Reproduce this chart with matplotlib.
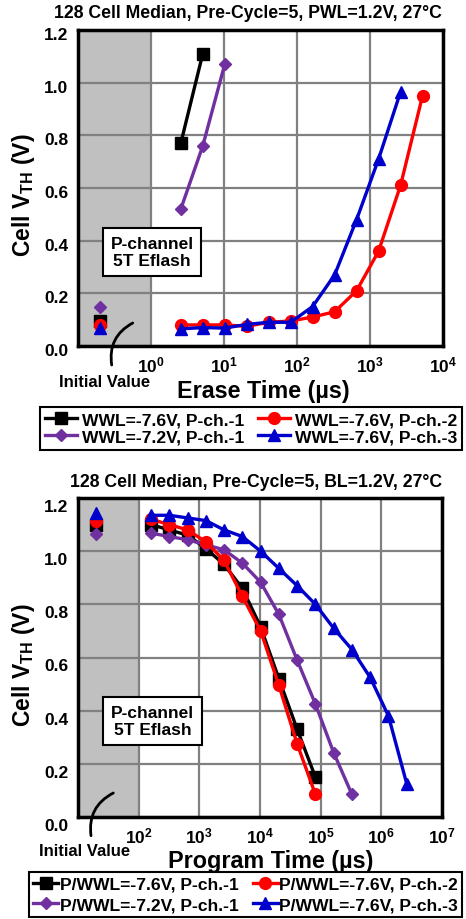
import math
import matplotlib as mpl
mpl.use('Agg')
from matplotlib import pyplot as plt
from matplotlib.patches import FancyArrowPatch
from matplotlib.transforms import ScaledTranslation

plt.rcParams['font.family'] = ['Liberation Sans', 'DejaVu Sans']
plt.rcParams['font.weight'] = 'bold'
plt.rcParams['axes.labelweight'] = 'bold'

# erase data (top panel)
erase_time = [2.56, 5.12, 10.24, 20.48, 40.96, 81.92, 163.84, 327.68, 655.36, 1310.72, 2621.44, 5242.88]
erase_init_time = 0.2
erase_black = [0.77, 1.11]
erase_purple = [0.52, 0.76, 1.07]
erase_red = [0.08, 0.08, 0.08, 0.075, 0.09, 0.095, 0.11, 0.13, 0.21, 0.36, 0.61, 0.95]
erase_blue = [0.065, 0.07, 0.068, 0.082, 0.09, 0.09, 0.15, 0.27, 0.48, 0.71, 0.965]
erase_init = {'black': 0.095, 'purple': 0.15, 'red': 0.08, 'blue': 0.068}
erase_labels = ['WWL=-7.6V, P-ch.-1', 'WWL=-7.2V, P-ch.-1',
                'WWL=-7.6V, P-ch.-2', 'WWL=-7.6V, P-ch.-3']

# program data (bottom panel)
prog_time = [160, 320, 640, 1280, 2560, 5120, 10240, 20480, 40960, 81920,
             163840, 327680, 655360, 1310720, 2621440]
prog_init_time = 20
prog_black = [1.10, 1.08, 1.06, 1.01, 0.95, 0.86, 0.715, 0.52, 0.33, 0.15]
prog_red = [1.12, 1.10, 1.08, 1.035, 0.965, 0.83, 0.70, 0.495, 0.275, 0.085]
prog_purple = [1.068, 1.055, 1.043, 1.024, 1.005, 0.955, 0.883, 0.762, 0.59, 0.425, 0.242, 0.085]
prog_blue = [1.135, 1.135, 1.125, 1.115, 1.08, 1.055, 1.0, 0.935, 0.87, 0.80, 0.71, 0.63, 0.525, 0.38, 0.125]
prog_init = {'black': 1.10, 'purple': 1.065, 'red': 1.115, 'blue': 1.145}
prog_labels = ['P/WWL=-7.6V, P-ch.-1', 'P/WWL=-7.2V, P-ch.-1',
               'P/WWL=-7.6V, P-ch.-2', 'P/WWL=-7.6V, P-ch.-3']

yticks = [0.0, 0.2, 0.4, 0.6, 0.8, 1.0, 1.2]

colors = {'black': '#000000', 'purple': '#7030A0', 'red': '#FF0000', 'blue': '#0000CC'}
markers = {'black': ('s', 8.5), 'purple': ('D', 6.5), 'red': ('o', 8.5), 'blue': ('^', 9)}

W, H = 466, 920
fig = plt.figure(figsize=(W / 100, H / 100), dpi=100)


def fx(px):
    return px / W


def fy(py):
    return 1 - py / H


def style_axes(ax, xlim, xticks, ylab_shift):
    ax.set_xscale('log')
    ax.set_xlim(*xlim)
    ax.set_ylim(0, 1.2)
    ax.axvspan(xlim[0], xlim[0] * 10, color='#C0C0C0', zorder=0, lw=0)
    ax.set_xticks(xticks)
    ax.set_xticklabels([r'$\mathdefault{10^{%d}}$' % round(math.log10(t)) for t in xticks])
    ax.xaxis.set_minor_locator(mpl.ticker.NullLocator())
    ax.set_yticks(yticks)
    ax.set_yticklabels(['%.1f' % v for v in yticks])
    ax.tick_params(axis='both', length=0, labelsize=12.5)
    ax.tick_params(axis='x', pad=6, labelsize=12.5)
    ax.tick_params(axis='y', pad=7)
    ax.grid(True, color='#808080', lw=1.6, zorder=0.5)
    ax.set_axisbelow(True)
    for sp in ax.spines.values():
        sp.set_linewidth(2.5)
        sp.set_zorder(5)
    off = ScaledTranslation(0, -ylab_shift / 100, fig.dpi_scale_trans)
    for lab in ax.get_yticklabels():
        lab.set_transform(lab.get_transform() + off)
    ax.set_ylabel(r'Cell V$_{\mathregular{TH}}$ (V)', fontsize=16.5)
    ax.yaxis.set_label_coords(-0.112, 0.48)


def draw_series(ax, name, t, v, t0, v0, label):
    m, ms = markers[name]
    c = colors[name]
    ln, = ax.plot(t, v, color=c, lw=2.4, marker=m, ms=ms, label=label, clip_on=False, zorder=3)
    ax.plot([t0], [v0], linestyle='none', color=c, marker=m, ms=ms, zorder=3, clip_on=False)
    return ln


def initial_note(x_text, y_text, p0, p1):
    fig.text(fx(x_text), fy(y_text), 'Initial Value', ha='center', va='center', fontsize=12)
    arc = FancyArrowPatch((fx(p0[0]), fy(p0[1])), (fx(p1[0]), fy(p1[1])),
                          transform=fig.transFigure, arrowstyle='-',
                          connectionstyle='arc3,rad=-0.35', lw=2, color='black',
                          shrinkA=0, shrinkB=0)
    fig.add_artist(arc)


box_kw = dict(boxstyle='square,pad=0.45', fc='white', ec='black', lw=1.5)
leg_kw = dict(loc='upper center', ncol=2, fontsize=12.6, numpoints=1, frameon=True,
              fancybox=False, framealpha=1, edgecolor='black', borderaxespad=0)

# ---------- top: erase ----------
ax1 = fig.add_axes([fx(78), fy(347), fx(443) - fx(78), fy(31) - fy(347)])
style_axes(ax1, (0.1, 1e4), [1, 10, 100, 1e3, 1e4], 3)
h1 = []
h1.append(draw_series(ax1, 'black', erase_time[:len(erase_black)], erase_black, erase_init_time, erase_init['black'], erase_labels[0]))
h1.append(draw_series(ax1, 'purple', erase_time[:len(erase_purple)], erase_purple, erase_init_time, erase_init['purple'], erase_labels[1]))
h1.append(draw_series(ax1, 'red', erase_time[:len(erase_red)], erase_red, erase_init_time, erase_init['red'], erase_labels[2]))
h1.append(draw_series(ax1, 'blue', erase_time[:len(erase_blue)], erase_blue, erase_init_time, erase_init['blue'], erase_labels[3]))
ax1.set_xlabel('Erase Time (µs)', fontsize=16.8)
ax1.xaxis.set_label_coords(0.507, -0.105)
ax1.text(0.203, 0.297, 'P-channel\n5T Eflash', transform=ax1.transAxes, ha='center', va='center',
         fontsize=12.5, linespacing=1.2, bbox=box_kw, zorder=6)
fig.text(fx(247.5), fy(14), '128 Cell Median, Pre-Cycle=5, PWL=1.2V, 27°C',
         ha='center', va='center', fontsize=12.7)
initial_note(105, 383, (111.7, 366), (132.7, 324))
leg1 = fig.legend(handles=h1, bbox_to_anchor=(fx(251), fy(408)), handlelength=1.8,
                  handletextpad=0.3, columnspacing=0.8, borderpad=0.3, labelspacing=0.1, **leg_kw)
leg1.get_frame().set_linewidth(1.5)

# ---------- bottom: program ----------
ax2 = fig.add_axes([fx(78), fy(818), fx(442) - fx(78), fy(499) - fy(818)])
style_axes(ax2, (10, 1e7), [1e2, 1e3, 1e4, 1e5, 1e6, 1e7], 7)
h2 = []
h2.append(draw_series(ax2, 'black', prog_time[:len(prog_black)], prog_black, prog_init_time, prog_init['black'], prog_labels[0]))
h2.append(draw_series(ax2, 'purple', prog_time[:len(prog_purple)], prog_purple, prog_init_time, prog_init['purple'], prog_labels[1]))
h2.append(draw_series(ax2, 'red', prog_time[:len(prog_red)], prog_red, prog_init_time, prog_init['red'], prog_labels[2]))
h2.append(draw_series(ax2, 'blue', prog_time[:len(prog_blue)], prog_blue, prog_init_time, prog_init['blue'], prog_labels[3]))
ax2.set_xlabel('Program Time (µs)', fontsize=16.8)
ax2.xaxis.set_label_coords(0.53, -0.1)
ax2.text(0.205, 0.301, 'P-channel\n5T Eflash', transform=ax2.transAxes, ha='center', va='center',
         fontsize=12.5, linespacing=1.2, bbox=box_kw, zorder=6)
fig.text(fx(256), fy(483), '128 Cell Median, Pre-Cycle=5, BL=1.2V, 27°C',
         ha='center', va='center', fontsize=12.7)
initial_note(85, 852, (91, 836.7), (113.3, 794))
leg2 = fig.legend(handles=h2, bbox_to_anchor=(fx(245.5), fy(873)), handlelength=1.45,
                  handletextpad=0.08, columnspacing=0.8, borderpad=0.25, labelspacing=0.3, **leg_kw)
leg2.get_frame().set_linewidth(1.5)

fig.savefig('out.png', dpi=100)
